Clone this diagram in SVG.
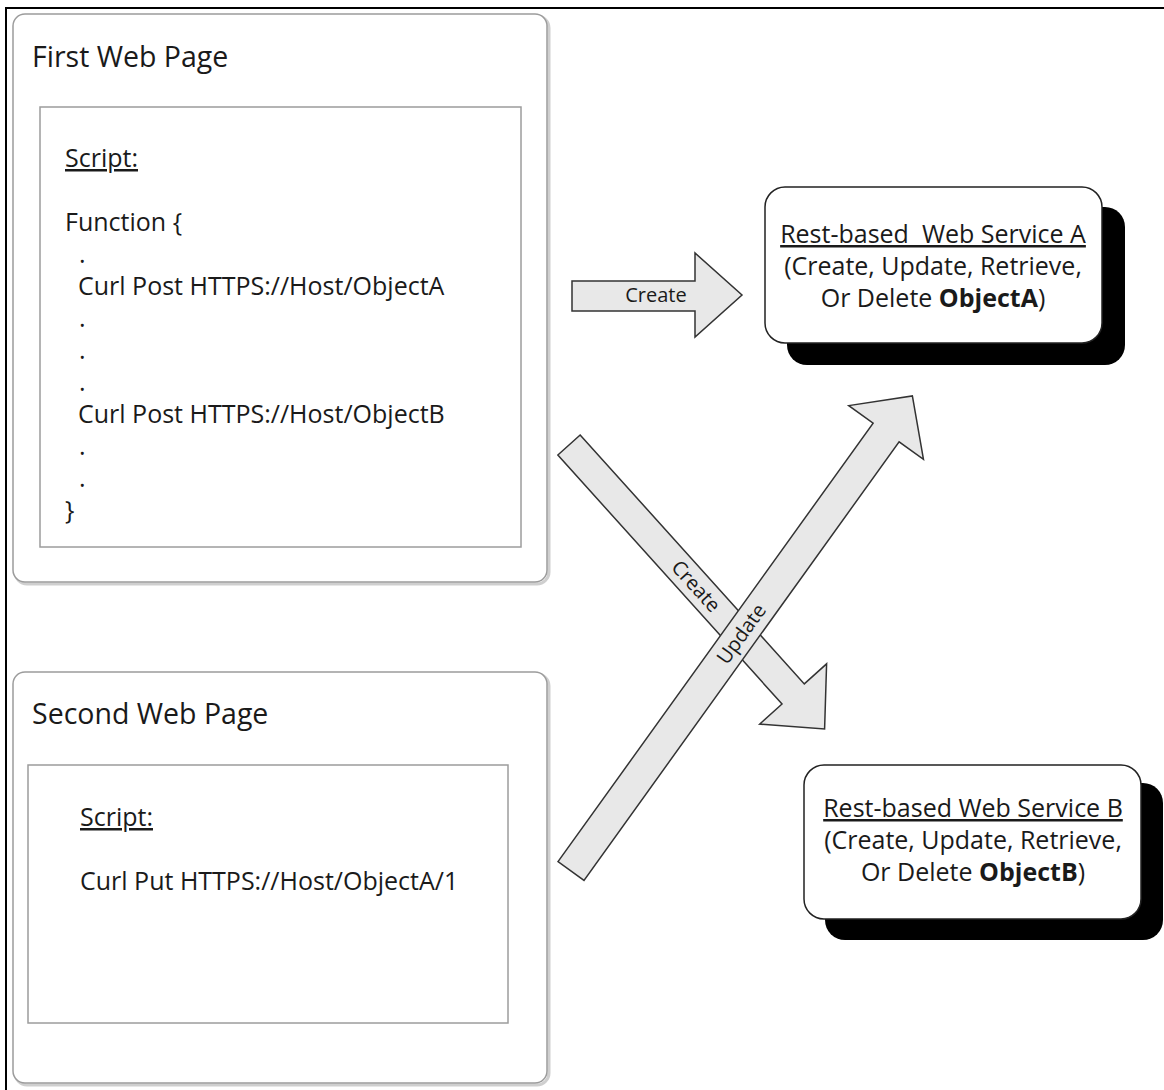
<svg xmlns="http://www.w3.org/2000/svg" width="1164" height="1090" viewBox="0 0 1164 1090">
  <style>
    text { font-family: "Open Sans", "Noto Sans", "Liberation Sans", sans-serif; fill: #1a1a1a; }
    .title { font-size: 28.5px; }
    .code { font-size: 25px; }
    .svc { font-size: 25px; text-anchor: middle; }
    .u { text-decoration: underline; }
    .b { font-weight: bold; }
    .lbl { font-size: 20px; text-anchor: middle; }
    .page-shadow { fill: none; stroke: #cfcfcf; stroke-width: 3; }
    .page { fill: #ffffff; stroke: #9c9c9c; stroke-width: 1.5; }
    .inner { fill: #ffffff; stroke: #9c9c9c; stroke-width: 1.5; }
    .svc-shadow { fill: #000000; }
    .svc-box { fill: #ffffff; stroke: #222222; stroke-width: 1.5; }
    .arrow { fill: #e8e8e8; stroke: #333333; stroke-width: 1.5; stroke-linejoin: miter; }
  </style>

  <rect width="1164" height="1090" fill="#ffffff"/>

  <g id="frame">
    <rect x="6" y="8" width="1200" height="1200" fill="none" stroke="#000000" stroke-width="2"/>
  </g>

  <g id="first-web-page">
    <rect class="page-shadow" x="15" y="16" width="534" height="568" rx="12"/>
    <rect class="page" x="13" y="14" width="534" height="568" rx="12"/>
    <text class="title" x="32" y="67">First Web Page</text>
    <rect class="inner" x="40" y="107" width="481" height="440"/>
    <text class="code u" x="65" y="167">Script:</text>
    <text class="code" x="65" y="231">Function {</text>
    <text class="code" x="79" y="263">.</text>
    <text class="code" x="78" y="295">Curl Post HTTPS://Host/ObjectA</text>
    <text class="code" x="79" y="327">.</text>
    <text class="code" x="79" y="359">.</text>
    <text class="code" x="79" y="391">.</text>
    <text class="code" x="78" y="423">Curl Post HTTPS://Host/ObjectB</text>
    <text class="code" x="79" y="455">.</text>
    <text class="code" x="79" y="487">.</text>
    <text class="code" x="65" y="519">}</text>
  </g>

  <g id="second-web-page">
    <rect class="page-shadow" x="15" y="674" width="534" height="411" rx="12"/>
    <rect class="page" x="13" y="672" width="534" height="411" rx="12"/>
    <text class="title" x="32" y="724">Second Web Page</text>
    <rect class="inner" x="28" y="765" width="480" height="258"/>
    <text class="code u" x="80" y="826">Script:</text>
    <text class="code" x="80" y="890">Curl Put HTTPS://Host/ObjectA/1</text>
  </g>

  <g id="service-a">
    <rect class="svc-shadow" x="787" y="207" width="338" height="158" rx="20"/>
    <rect class="svc-box" x="765" y="187" width="337" height="156" rx="20"/>
    <text class="svc u" x="933" y="243">Rest-based&#160; Web Service A</text>
    <text class="svc" x="933" y="275">(Create, Update, Retrieve,</text>
    <text class="svc" x="933" y="307">Or Delete <tspan class="b">ObjectA</tspan>)</text>
  </g>

  <g id="service-b">
    <rect class="svc-shadow" x="825" y="783" width="338" height="157" rx="20"/>
    <rect class="svc-box" x="804" y="765" width="337" height="154" rx="20"/>
    <text class="svc u" x="973" y="817">Rest-based Web Service B</text>
    <text class="svc" x="973" y="849">(Create, Update, Retrieve,</text>
    <text class="svc" x="973" y="881">Or Delete <tspan class="b">ObjectB</tspan>)</text>
  </g>

  <g id="connectors">
    <g id="arrow-create-a">
      <polygon class="arrow" points="572,281 695,281 695,253 742,295 695,337 695,311 572,311"/>
      <text class="lbl" x="656" y="302">Create</text>
    </g>
    <g id="arrow-create-b" transform="translate(569,445) rotate(48)">
      <polygon class="arrow" points="0,-15 335,-15 335,-45 382,0 335,45 335,15 0,15"/>
      <text class="lbl" x="190" y="7">Create</text>
    </g>
    <g id="arrow-update-a" transform="translate(571,871) rotate(-54.3)">
      <polygon class="arrow" points="0,-16 540,-16 540,-46 585,0 540,46 540,16 0,16"/>
      <text class="lbl" x="292" y="7">Update</text>
    </g>
  </g>
</svg>
